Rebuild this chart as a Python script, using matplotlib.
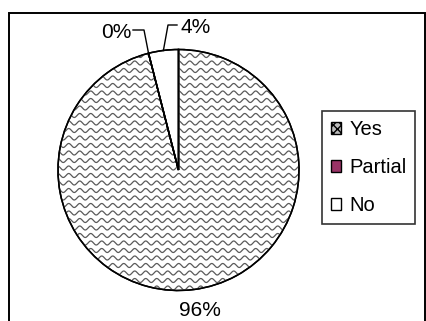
import numpy as np
import matplotlib
matplotlib.use("Agg")
import matplotlib.pyplot as plt
from matplotlib.patches import Patch, Rectangle, Wedge

categories = ["Yes", "Partial", "No"]
values = [96, 0, 4]
pct_labels = ["96%", "0%", "4%"]
colors = ["white", "#993366", "white"]

W, H = 427, 321
plt.rcParams["font.family"] = ["Liberation Sans", "DejaVu Sans"]
fig = plt.figure(figsize=(W / 100, H / 100), dpi=100)
ax = fig.add_axes([0, 0, 1, 1])
ax.axis("off")

def Y(yt):
    return H - yt

cx, cy, R = 178.5, Y(170), 120.5
wedges, _ = ax.pie(values, colors=colors, startangle=90, counterclock=False,
                   center=(cx, cy), radius=R,
                   wedgeprops=dict(edgecolor="black", linewidth=1.1))
ax.set_xlim(0, W)
ax.set_ylim(0, H)
ax.set_aspect("auto")

# wavy pattern in the "Yes" wedge
yes = wedges[0]
spacing, lam, amp = 7.5, 11.0, 2.0
xs = np.linspace(cx - R - 5, cx + R + 5, 800)
for y0 in np.arange(cy - R - 5, cy + R + 5, spacing):
    ln, = ax.plot(xs, y0 + amp * np.sin(2 * np.pi * xs / lam), color="#5a5a5a", lw=0.9, zorder=1.5)
    ln.set_clip_path(yes)
for w in wedges:
    w.set_zorder(1)
    ax.add_patch(Wedge(w.center, w.r, w.theta1, w.theta2,
                       facecolor="none", edgecolor="black", lw=1.1, zorder=2))

def edge_pt(w, frac=0.5):
    th = np.deg2rad(w.theta1 + frac * (w.theta2 - w.theta1))
    return cx + R * np.cos(th), cy + R * np.sin(th)

fs = 15
# 96%
ax.text(200, Y(316.5), pct_labels[0], ha="center", va="baseline", fontsize=fs)
# 0%
ex, ey = edge_pt(wedges[1])
ax.plot([133, 144, ex], [Y(30), Y(30), ey], color="black", lw=1.0, zorder=3)
ax.text(132, Y(33), pct_labels[1], ha="right", va="center", fontsize=fs)
# 4%
ex, ey = edge_pt(wedges[2])
ax.plot([177, 168, ex], [Y(25), Y(25), ey], color="black", lw=1.0, zorder=3)
ax.text(181, Y(27.5), pct_labels[2], ha="left", va="center", fontsize=fs)

# outer frame
fig.add_artist(Rectangle((8.5 / W, -0.1), (425.5 - 8.5) / W, 1.1 - 12.5 / H,
                         transform=fig.transFigure, facecolor="none",
                         edgecolor="black", lw=1.4))

handles = [Patch(facecolor="#bbbbbb", edgecolor="black", hatch="xxxx", lw=1.0),
           Patch(facecolor=colors[1], edgecolor="black", lw=1.0),
           Patch(facecolor="white", edgecolor="black", lw=1.0)]
leg = ax.legend(handles, categories, loc="upper left",
                bbox_to_anchor=(322 / W, 1 - 111 / H), bbox_transform=fig.transFigure,
                fontsize=14.5, frameon=True, fancybox=False, borderaxespad=0,
                handlelength=0.5, handleheight=0.5, handletextpad=0.4,
                labelspacing=0.95, borderpad=0.45)
leg.get_frame().set_edgecolor("black")
leg.get_frame().set_linewidth(1.2)

fig.savefig("out.png", dpi=100, facecolor="white")
